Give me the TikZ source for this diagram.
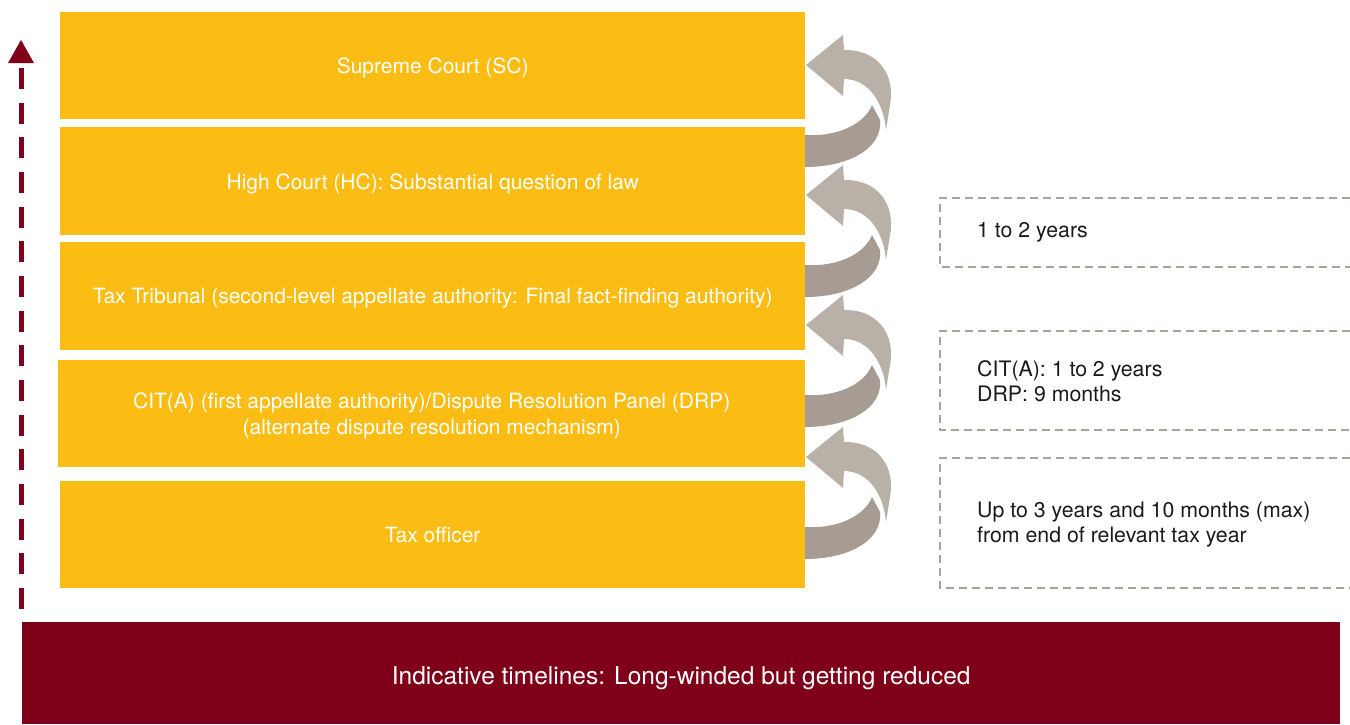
\documentclass[tikz,border=0pt]{standalone}
\usepackage{fontspec}
\setmainfont{TeX Gyre Heros}
\definecolor{ybox}{HTML}{FBBD13}
\definecolor{banner}{HTML}{7E0019}
\definecolor{arlight}{HTML}{B9B0A8}
\definecolor{ardark}{HTML}{A69C94}
\definecolor{dashgray}{HTML}{ACA299}
\definecolor{txt}{HTML}{1A1A1A}
\tikzset{
  levelbox/.style={fill=ybox, draw=none, inner sep=0pt, anchor=north west, minimum height=107pt, text=white, align=center, text depth=0pt, font=\fontsize{21}{26}\selectfont},
  bannerbox/.style={fill=banner, draw=none, inner sep=0pt, anchor=north west, text=white, text depth=0pt, font=\fontsize{24.5}{28}\selectfont},
  timetext/.style={anchor=west, inner sep=0pt, text=txt, align=left, font=\fontsize{21.3}{25.5}\selectfont},
  dashframe/.style={draw=dashgray, line width=2.2pt, dash pattern=on 8pt off 5pt},
  bigarrow/.style={draw=banner, line width=5pt, dash pattern=on 21pt off 13.67pt},
}
\newcommand\loopar[1]{%
  \begin{scope}[shift={(806,#1)}]
    \fill[ardark] (-1,70) .. controls (30,72) and (58,60) .. (66,40) -- (74,55)
       .. controls (77,82) and (45,102) .. (-1,102) -- cycle;
    \fill[arlight] (0,0) -- (37,-30) -- (38,-15)
       .. controls (70,-16) and (90,8) .. (84,40) -- (80,65)
       .. controls (78,40) and (64,14) .. (38,14) -- (37,31) -- cycle;
  \end{scope}}
\begin{document}
\begin{tikzpicture}[x=1pt,y=-1pt]
\useasboundingbox (0,0) rectangle (1350,724);
% level boxes
\node[levelbox, minimum width=745pt] (sc) at (60,12) {Supreme Court (SC)};
\node[levelbox, minimum width=745pt, minimum height=108pt] (hc) at (60,127) {High Court (HC): Substantial question of law};
\node[levelbox, minimum width=745pt, minimum height=108pt] (tt) at (60,242) {Tax Tribunal (second-level appellate authority: Final fact-finding authority)};
\node[levelbox, minimum width=747pt] (cit) at (58,360) {CIT(A) (first appellate authority)/Dispute Resolution Panel (DRP)\\(alternate dispute resolution mechanism)};
\node[levelbox, minimum width=745pt] (to) at (60,481) {Tax officer};
% banner
\node[bannerbox, minimum width=1318pt, minimum height=102pt] (ban) at (22,622) {\raisebox{-4pt}{Indicative timelines: Long-winded but getting reduced}};
% curved arrows
\loopar{65}
\loopar{195}
\loopar{325}
\loopar{457}
% big dashed arrow
\coordinate (abot) at (21,609);
\coordinate (atop) at (21,63);
\coordinate (atip) at (21,40);
\draw[bigarrow] (abot) -- (atop);
\fill[banner] (8,63) -- (34,63) -- (atip) -- cycle;
% timeline boxes
\node[timetext] (t1) at (977,232.5) {1 to 2 years};
\node[timetext] (t2) at (977,381) {CIT(A): 1 to 2 years\\DRP: 9 months};
\node[timetext] (t3) at (977,524.5) {Up to 3 years and 10 months (max)\\from end of relevant tax year};
\draw[dashframe] (1350,198) -- (940,198) -- (940,267) -- (1350,267);
\draw[dashframe] (1350,331) -- (940,331) -- (940,430) -- (1350,430);
\draw[dashframe] (1350,458) -- (940,458) -- (940,588) -- (1350,588);
\end{tikzpicture}
\end{document}
